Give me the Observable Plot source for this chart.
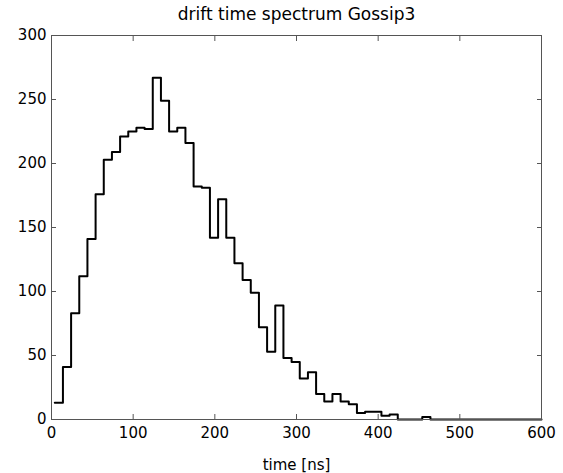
<!DOCTYPE html>
<html>
<head>
<meta charset="utf-8">
<script src="https://cdn.jsdelivr.net/npm/d3@7"></script>
<script src="https://cdn.jsdelivr.net/npm/@observablehq/plot@0.6"></script>
<style>
  html, body { margin: 0; padding: 0; background: #fff; }
  svg { display: block; }
</style>
</head>
<body>
<div id="chart"></div>
<script>
// ---- data ----
const titleText = "drift time spectrum Gossip3";
const xLabel = "time [ns]";
const firstEdge = 4;      // left edge of first bin (ns)
const binWidth = 10;      // ns
const lastEdge = 600;     // right end of stairs (ns)
// counts per 10 ns bin, starting at firstEdge
const counts = [
  13, 41, 83, 112, 141, 176, 203, 209, 221, 225,
  228, 227, 267, 249, 225, 228, 216, 182, 181, 142,
  172, 142, 122, 109, 99, 72, 53, 89, 48, 45,
  32, 37, 20, 14, 20, 14, 12, 5, 6, 6,
  3, 4, 0, 0, 0, 2, 0, 0, 0, 0,
  0, 0, 0, 0, 0, 0, 0, 0, 0, 0
];
const xTicks = [0, 100, 200, 300, 400, 500, 600];
const yTicks = [0, 50, 100, 150, 200, 250, 300];

// stairs points (step-after)
const stairs = counts.map((c, i) => ({t: firstEdge + binWidth * i, n: c}));
stairs.push({t: lastEdge, n: counts[counts.length - 1]});

const font = "DejaVu Sans, Liberation Sans, sans-serif";
const axisColor = "#555";

const chart = Plot.plot({
  width: 563,
  height: 473,
  marginLeft: 51,
  marginRight: 22,
  marginTop: 35,
  marginBottom: 54,
  style: {fontFamily: font, fontSize: "15px", color: "#000", background: "#fff"},
  x: {domain: [0, 600]},
  y: {domain: [0, 300]},
  marks: [
    Plot.line(stairs, {x: "t", y: "n", curve: "step-after", stroke: "#000", strokeWidth: 2}),
    Plot.frame({stroke: axisColor, strokeWidth: 1}),
    Plot.axisX(xTicks, {anchor: "bottom", tickSize: -5, tickPadding: 13, stroke: axisColor, fill: "#000",
      label: xLabel, labelAnchor: "center", labelArrow: "none", labelOffset: 50, fontSize: 15}),
    Plot.axisX(xTicks, {anchor: "top", tickSize: -5, tickFormat: () => "", stroke: axisColor, label: null}),
    Plot.axisY(yTicks, {anchor: "left", tickSize: -5, tickPadding: 10, stroke: axisColor, fill: "#000",
      label: null, fontSize: 15}),
    Plot.axisY(yTicks, {anchor: "right", tickSize: -5, tickFormat: () => "", stroke: axisColor, label: null}),
    Plot.text([titleText], {frameAnchor: "top", dy: -21, lineAnchor: "middle", fontSize: 17, fill: "#000"})
  ]
});
document.getElementById("chart").appendChild(chart);
</script>
</body>
</html>
